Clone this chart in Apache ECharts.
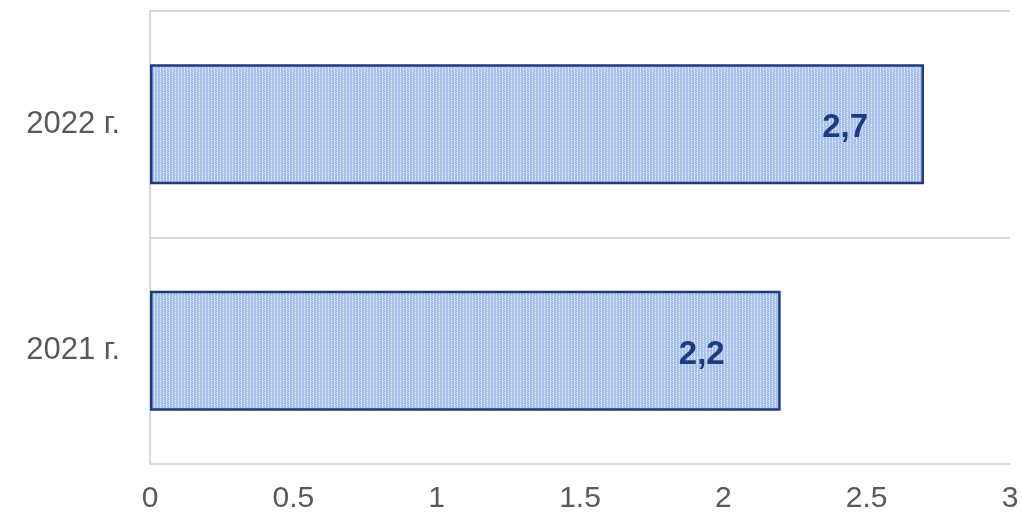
<!DOCTYPE html>
<html>
<head>
<meta charset="utf-8">
<script src="https://cdn.jsdelivr.net/npm/echarts@6/dist/echarts.min.js"></script>
<style>
  html, body { margin: 0; padding: 0; background: #fff; }
  #chart { width: 1022px; height: 519px; }
</style>
</head>
<body>
<div id="chart"></div>
<script>
  // Data
  const CATEGORIES = ['2021 г.', '2022 г.'];
  const VALUES = [2.2, 2.7];
  const X_MIN = 0, X_MAX = 3, X_STEP = 0.5;

  const BAR_EDGE = '#1b3c80';
  const LABEL_COLOR = '#1b3c80';
  const AXIS_TEXT = '#595959';
  const GRID_LINE = '#d9d9d9';

  // Dotted light-blue fill, like the Office "small grid" pattern
  function makePattern() {
    const c = document.createElement('canvas');
    c.width = 6; c.height = 4;
    const g = c.getContext('2d');
    g.fillStyle = '#a8c0eb';
    g.fillRect(0, 0, 6, 4);
    g.fillStyle = '#e6edfa';
    g.fillRect(1, 0, 1, 1);
    g.fillRect(1, 2, 1, 1);
    g.fillRect(4, 1, 1, 1);
    g.fillRect(4, 3, 1, 1);
    g.fillStyle = '#c6d6f2';
    g.fillRect(1, 1, 1, 1);
    g.fillRect(4, 0, 1, 1);
    return c;
  }

  const chart = echarts.init(document.getElementById('chart'), null, { renderer: 'canvas' });
  chart.setOption({
    animation: false,
    textStyle: { fontFamily: 'Liberation Sans, Arial, sans-serif' },
    grid: { left: 150, right: 12, top: 11, bottom: 55, containLabel: false },
    xAxis: {
      type: 'value',
      min: X_MIN, max: X_MAX, interval: X_STEP,
      axisLine: { show: false },
      axisTick: { show: false },
      splitLine: { show: false },
      axisLabel: { color: AXIS_TEXT, fontSize: 30, margin: 20 }
    },
    yAxis: {
      type: 'category',
      data: CATEGORIES,
      axisLine: { show: true, lineStyle: { color: GRID_LINE, width: 2 } },
      axisTick: { show: false },
      splitLine: { show: true, lineStyle: { color: GRID_LINE, width: 2 } },
      axisLabel: { color: AXIS_TEXT, fontSize: 31, margin: 30 }
    },
    series: [{
      type: 'bar',
      data: VALUES,
      barWidth: '53%',
      itemStyle: {
        color: { image: makePattern(), repeat: 'repeat' },
        borderColor: BAR_EDGE,
        borderWidth: 2.5
      },
      label: {
        show: true,
        position: 'insideRight',
        distance: 56,
        offset: [0, 4],
        color: LABEL_COLOR,
        fontWeight: 'bold',
        fontSize: 33,
        formatter: p => String(p.value).replace('.', ',')
      }
    }]
  });
</script>
</body>
</html>
